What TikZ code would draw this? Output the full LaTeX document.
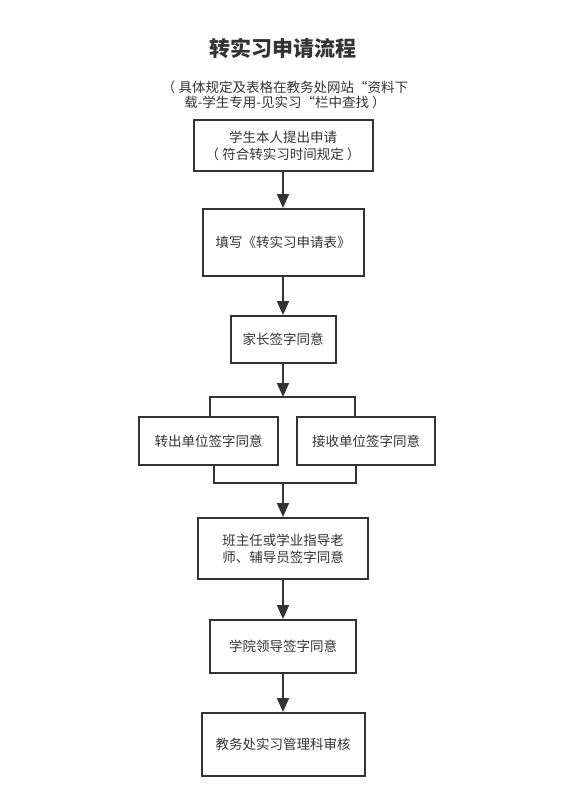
\documentclass[tikz,border=0pt]{standalone}
\usepackage{fontspec}
\setmainfont{Noto Sans CJK SC}
\usetikzlibrary{arrows.meta}
\definecolor{ink}{HTML}{333333}
\tikzset{
  box/.style={draw=ink, line width=2pt, text=ink, align=center, inner sep=2pt,
    font=\fontsize{13.5}{17}\selectfont},
  flow/.style={draw=ink, line width=2pt, -{Triangle[length=14pt,width=12pt]}},
  link/.style={draw=ink, line width=2pt}
}
\begin{document}
\begin{tikzpicture}[x=1pt,y=-1pt]
\useasboundingbox (0,0) rectangle (564,806);
\node[text=ink, font=\fontsize{21}{25}\bfseries] (title) at (283,48) {转实习申请流程};
\node[text=ink, align=center, font=\fontsize{13.5}{15.5}\selectfont] (sub) at (285,95)
  {（ 具体规定及表格在教务处网站“资料下\\载-学生专用-见实习“栏中查找 ）};
\node[box, minimum width=179pt, minimum height=51pt] (b1) at (283,145.5)
  {学生本人提出申请\\（ 符合转实习时间规定 ）};
\node[box, minimum width=161pt, minimum height=67pt] (b2) at (283,242.5) {填写《转实习申请表》};
\node[box, minimum width=105pt, minimum height=47pt] (b3) at (283,339.5) {家长签字同意};
\node[box, minimum width=139pt, minimum height=48pt] (b4) at (208.5,441) {转出单位签字同意};
\node[box, minimum width=138pt, minimum height=48pt] (b5) at (366,441) {接收单位签字同意};
\node[box, minimum width=170pt, minimum height=61pt] (b6) at (283,548.5)
  {班主任或学业指导老\\师、辅导员签字同意};
\node[box, minimum width=146pt, minimum height=53pt] (b7) at (283,646.5) {学院领导签字同意};
\node[box, minimum width=163pt, minimum height=63pt] (b8) at (283,744.5) {教务处实习管理科审核};
\coordinate (split) at (283,397);
\coordinate (sl) at (210,397);
\coordinate (sr) at (355,397);
\coordinate (ml) at (214,483);
\coordinate (mr) at (356,483);
\coordinate (merge) at (283,483);
\draw[flow] (b1.south) -- (b2.north);
\draw[flow] (b2.south) -- (b3.north);
\draw[flow] (b3.south) -- (split);
\draw[link] (sl |- b4.north) -- (sl) -- (sr) -- (sr |- b5.north);
\draw[link] (ml |- b4.south) -- (ml) -- (mr) -- (mr |- b5.south);
\draw[flow] (merge) -- (b6.north);
\draw[flow] (b6.south) -- (b7.north);
\draw[flow] (b7.south) -- (b8.north);
\end{tikzpicture}
\end{document}
